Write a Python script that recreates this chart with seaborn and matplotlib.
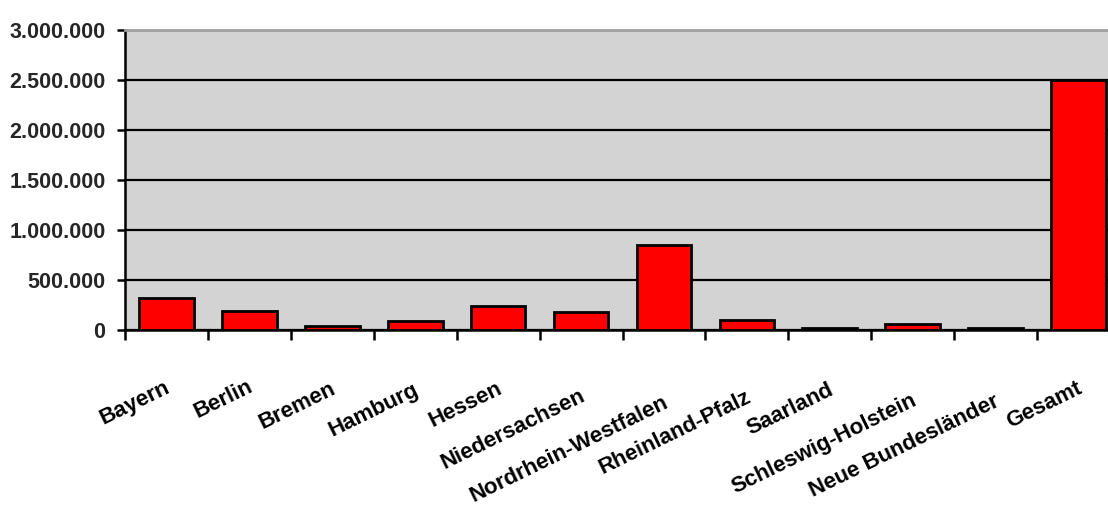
import matplotlib
matplotlib.use("Agg")
import matplotlib.pyplot as plt
import matplotlib.transforms as mtransforms
from matplotlib.font_manager import FontProperties
from matplotlib.ticker import FuncFormatter
import seaborn as sns

# Data
categories = ["Bayern", "Berlin", "Bremen", "Hamburg", "Hessen", "Niedersachsen",
              "Nordrhein-Westfalen", "Rheinland-Pfalz", "Saarland",
              "Schleswig-Holstein", "Neue Bundesländer", "Gesamt"]
values = [324000, 193000, 42000, 90000, 240000, 183000,
          850000, 100000, 25000, 63000, 25000, 2500000]
y_ticks = [0, 500000, 1000000, 1500000, 2000000, 2500000, 3000000]

sns.set_style("white")
plt.rcParams["font.family"] = ["Liberation Sans", "DejaVu Sans"]
plt.rcParams["font.weight"] = "bold"

W, H, DPI = 1108, 507, 100
fig = plt.figure(figsize=(W / DPI, H / DPI), dpi=DPI)
# plot area: runs slightly past the right edge of the figure
left, right, top, bottom = 125, 1120, 30, 330
ax = fig.add_axes([left / W, (H - bottom) / H, (right - left) / W, (bottom - top) / H])
ax.set_facecolor("#D3D3D3")

sns.barplot(x=categories, y=values, color="#FF0000", saturation=1,
            edgecolor="black", linewidth=2, width=0.66, ax=ax, zorder=3)

ax.set_xlim(-0.5, len(categories) - 0.5)
ax.set_ylim(0, 3000000)
ax.set_yticks(y_ticks)
ax.yaxis.set_major_formatter(FuncFormatter(lambda v, p: f"{int(v):,}".replace(",", ".")))
ax.yaxis.grid(True, color="black", linewidth=1.6, zorder=1)
ax.set_axisbelow(True)
ax.set_xlabel("")
ax.set_ylabel("")

for s in ["left", "bottom"]:
    ax.spines[s].set_color("black")
    ax.spines[s].set_linewidth(1.8)
ax.spines["top"].set_color("#A0A0A0")
ax.spines["top"].set_linewidth(2)
ax.spines["right"].set_color("#A0A0A0")

ax.tick_params(axis="y", direction="out", length=6, width=1.8, color="black",
               labelsize=15.5, pad=8, left=True)
for lbl in ax.get_yticklabels():
    lbl.set_fontweight("bold")

# category boundary ticks on the x axis, labels drawn separately
ax.set_xticks([i - 0.5 for i in range(len(categories) + 1)])
ax.set_xticklabels([])
ax.tick_params(axis="x", direction="out", length=7, width=1.8, color="black", bottom=True)

fig.canvas.draw()
renderer = fig.canvas.get_renderer()
fp = FontProperties(family=["Liberation Sans", "DejaVu Sans"], weight="bold", size=16)
base = mtransforms.blended_transform_factory(ax.transData, ax.transAxes)
for i, name in enumerate(categories):
    w_px, _, _ = renderer.get_text_width_height_descent(name, fp, ismath=False)
    drop = (40 + 0.1 * w_px) / DPI
    tr = base + mtransforms.ScaledTranslation(-2 / DPI, -drop, fig.dpi_scale_trans)
    ax.text(i, 0, name, transform=tr, rotation=26, rotation_mode="anchor",
            ha="right", va="top", fontproperties=fp, color="black", clip_on=False)

fig.savefig("out.png", dpi=DPI, facecolor="white")
